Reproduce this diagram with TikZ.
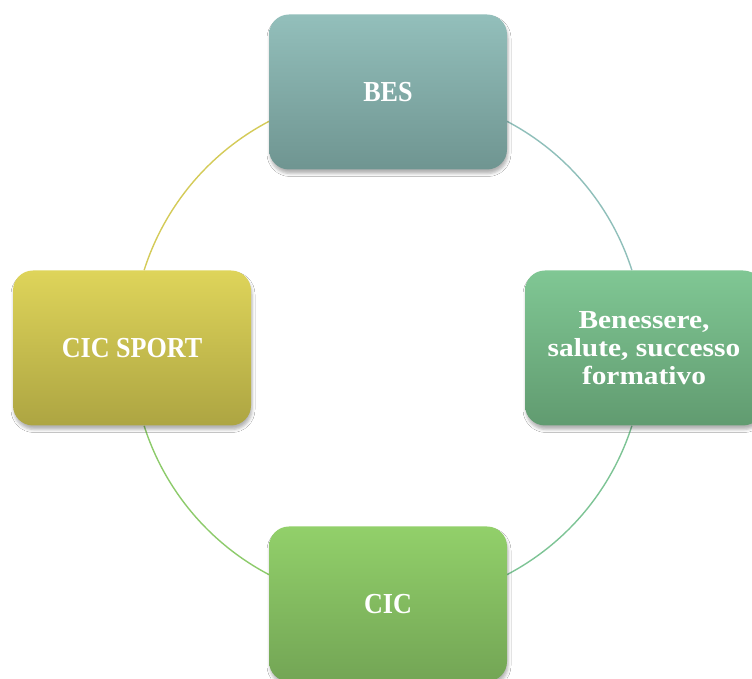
\documentclass[tikz,border=0pt]{standalone}
\usepackage{fontspec}
\setmainfont{Liberation Serif}
\newfontfamily\capfont[FakeStretch=0.9]{Liberation Serif}
\newfontfamily\widefont[FakeStretch=1.13]{Liberation Serif}
\usetikzlibrary{shadows.blur}
\definecolor{besT}{HTML}{93BFBB}
\definecolor{besB}{HTML}{6F9591}
\definecolor{benT}{HTML}{80C794}
\definecolor{benB}{HTML}{619B70}
\definecolor{cicT}{HTML}{92D06A}
\definecolor{cicB}{HTML}{73A555}
\definecolor{spoT}{HTML}{DED45A}
\definecolor{spoB}{HTML}{ADA542}
\definecolor{arcA}{HTML}{8FBFBA}
\definecolor{arcB}{HTML}{7DC495}
\definecolor{arcC}{HTML}{8DCB6B}
\definecolor{arcD}{HTML}{D4CB58}
\tikzset{
  box/.style={rounded corners=20pt, minimum width=238pt, minimum height=155pt,
    inner sep=0pt, align=center, text=white, font=\capfont\bfseries\fontsize{29}{30}\selectfont,
    blur shadow={shadow xshift=1pt, shadow yshift=-4pt, shadow blur radius=3pt, shadow opacity=30}},
  ring/.style={line width=1.4pt}
}
\begin{document}
\begin{tikzpicture}[x=1pt,y=1pt]
\useasboundingbox (0,0) rectangle (752,679);
\fill[white] (0,0) rectangle (752,679);
\clip (0,0) rectangle (752,679);
\coordinate (c) at (388,331);
\draw[ring, arcA] (c) ++(62.3:256) arc[start angle=62.3, end angle=17.7, radius=256];
\draw[ring, arcB] (c) ++(-17.7:256) arc[start angle=-17.7, end angle=-62.3, radius=256];
\draw[ring, arcC] (c) ++(-117.7:256) arc[start angle=-117.7, end angle=-162.3, radius=256];
\draw[ring, arcD] (c) ++(162.3:256) arc[start angle=162.3, end angle=117.7, radius=256];
\node[box, top color=besT, bottom color=besB] (bes) at (388,587) {BES};
\node[box, top color=benT, bottom color=benB, font=\widefont\bfseries\fontsize{26}{28}\selectfont] (ben) at (644,331) {Benessere,\\salute, successo\\formativo};
\node[box, top color=cicT, bottom color=cicB] (cic) at (388,75) {CIC};
\node[box, top color=spoT, bottom color=spoB] (spo) at (132,331) {CIC SPORT};
\end{tikzpicture}
\end{document}
